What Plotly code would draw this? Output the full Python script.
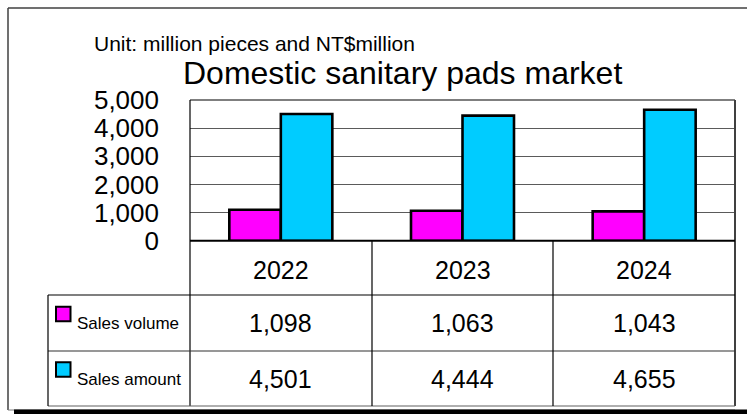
import plotly.graph_objects as go

years = ["2022", "2023", "2024"]
sales_volume = [1098, 1063, 1043]
sales_amount = [4501, 4444, 4655]
series_names = ["Sales volume", "Sales amount"]
series_colors = ["#FF00FF", "#00CCFF"]
title_text = "Domestic sanitary pads market"
unit_text = "Unit: million pieces and NT$million"
y_ticks = [0, 1000, 2000, 3000, 4000, 5000]

W, H = 747, 414
FONT = "Liberation Sans, Arial, sans-serif"


def px(x):
    return x / W


def py(y):
    return 1 - y / H


# layout geometry (pixels)
PL, PR, PT, PB = 190, 735, 100, 240.7
ROW1, ROW2, TBOT = 295, 351, 406
TLEFT = 48
COLS = [190, 372, 553, 735]

fig = go.Figure()
for name, vals, col in zip(series_names, [sales_volume, sales_amount], series_colors):
    fig.add_trace(go.Bar(
        x=years, y=vals, name=name,
        marker=dict(color=col, line=dict(color="black", width=2.6)),
        showlegend=False, hoverinfo="x+y+name",
    ))

shapes = []


def line(x0, y0, x1, y1, color="black", width=1):
    shapes.append(dict(type="line", xref="paper", yref="paper",
                       x0=px(x0), y0=py(y0), x1=px(x1), y1=py(y1),
                       line=dict(color=color, width=width)))


# outer frame
line(8, 8, 747, 8, "#404040", 1.5)
line(8, 8, 8, 410, "#404040", 1.5)
line(8, 410, 735, 410, "#808080", 1)
shapes.append(dict(type="rect", xref="paper", yref="paper",
                   x0=px(14), x1=px(747), y0=py(414), y1=py(409.5),
                   fillcolor="black", line=dict(width=0)))

# plot area border
line(PL, PT, PR, PT, "black", 1.2)
line(PL, PT, PL, TBOT, "black", 1.2)
line(PR, PT, PR, TBOT, "#404040", 2)
line(PL, PB, PR, PB, "black", 2)

# table lines
line(TLEFT, ROW1, PR, ROW1, "black", 1.2)
line(TLEFT, ROW2, PR, ROW2, "#303030", 1.2)
line(TLEFT, TBOT, PR, TBOT, "#606060", 1.2)
line(TLEFT, ROW1, TLEFT, TBOT, "black", 1.2)
for cx in COLS[1:3]:
    line(cx, PB, cx, TBOT, "black", 1.2)

# legend squares in table
for i, (yc, col) in enumerate(zip([314, 369.5], series_colors)):
    shapes.append(dict(type="rect", xref="paper", yref="paper",
                       x0=px(56), x1=px(70.5), y0=py(yc + 7.3), y1=py(yc - 7.3),
                       fillcolor=col, line=dict(color="black", width=2)))

annotations = [
    dict(text=unit_text, x=px(92), y=py(43), xref="paper", yref="paper",
         xanchor="left", yanchor="middle", showarrow=False,
         font=dict(family=FONT, size=21, color="black")),
    dict(text=title_text, x=px(402), y=py(73), xref="paper", yref="paper",
         xanchor="center", yanchor="middle", showarrow=False,
         font=dict(family=FONT, size=32, color="black")),
]
for name, yc in zip(series_names, [323, 379]):
    annotations.append(dict(text=name, x=px(75), y=py(yc), xref="paper", yref="paper",
                            xanchor="left", yanchor="middle", showarrow=False,
                            font=dict(family=FONT, size=17, color="black")))
for i, yr in enumerate(years):
    annotations.append(dict(text=yr, x=i, xref="x", y=py(270), yref="paper",
                            xanchor="center", yanchor="middle", showarrow=False,
                            font=dict(family=FONT, size=25, color="black")))
    for vals, yc in zip([sales_volume, sales_amount], [323, 378.5]):
        annotations.append(dict(text=f"{vals[i]:,}", x=i, xref="x", y=py(yc), yref="paper",
                                xanchor="center", yanchor="middle", showarrow=False,
                                font=dict(family=FONT, size=25, color="black")))

fig.update_layout(
    width=W, height=H, autosize=False,
    margin=dict(l=0, r=0, t=0, b=0, pad=0),
    paper_bgcolor="white", plot_bgcolor="white",
    barmode="group", bargap=0.433, bargroupgap=0,
    xaxis=dict(type="category", domain=[px(PL), px(PR)], range=[-0.5, 2.5],
               showticklabels=False, automargin=False,
               showgrid=False, zeroline=False, showline=False, ticks=""),
    yaxis=dict(domain=[py(PB), py(PT)], range=[0, 5000], tickvals=y_ticks,
               tickformat=",", showgrid=True, gridcolor="#5a5a5a", gridwidth=1.2,
               zeroline=False, showline=False, ticks="", automargin=False,
               ticklabelstandoff=30,
               tickfont=dict(family=FONT, size=26, color="black")),
    shapes=shapes,
    annotations=annotations,
    font=dict(family=FONT),
)

fig.write_html("out.html")
